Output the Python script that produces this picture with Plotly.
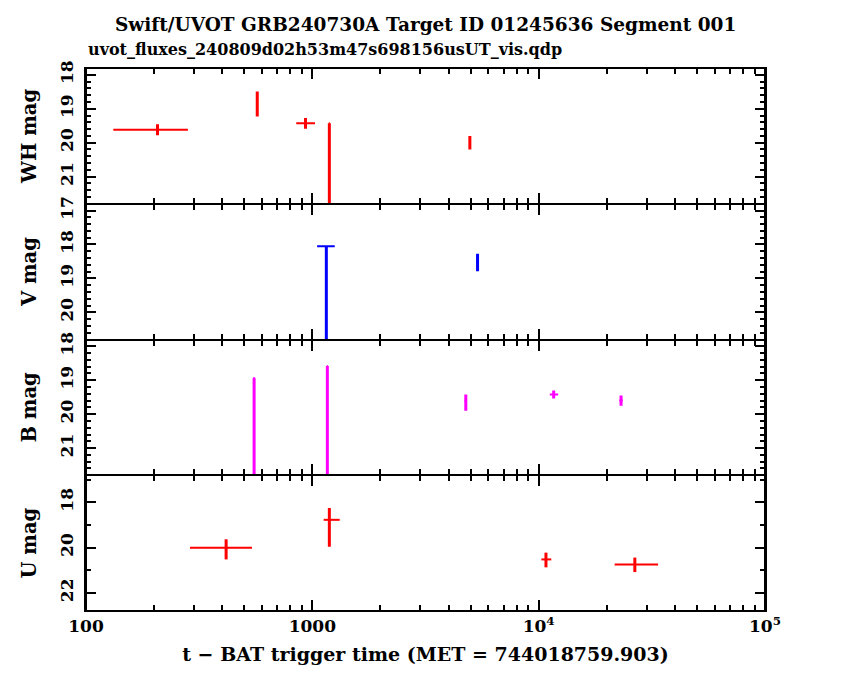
import plotly.graph_objects as go
from plotly.subplots import make_subplots

# ---- data (time since trigger in s, magnitudes) ----
wh_t = [207, 571, 933, 1189, 4966]
wh_tlo = [75, 4, 84, 6, 6]
wh_thi = [75, 4, 95, 6, 6]
wh_mag = [19.62, 18.86, 19.43, 19.43, 20.0]
wh_elo = [0.16, 0.37, 0.16, 0.0, 0.2]
wh_ehi = [0.16, 0.37, 0.16, 3.0, 0.2]

v_t = [1153, 5370]
v_tlo = [103, 60]
v_thi = [103, 60]
v_mag = [18.05, 18.52]
v_elo = [0.0, 0.25]
v_ehi = [3.5, 0.27]

b_t = [553, 1165, 4765, 11650, 23120]
b_tlo = [6, 6, 60, 450, 400]
b_thi = [6, 6, 60, 550, 400]
b_mag = [18.94, 18.58, 19.61, 19.42, 19.6]
b_elo = [0.0, 0.0, 0.19, 0.12, 0.15]
b_ehi = [3.5, 3.5, 0.29, 0.12, 0.15]

u_t = [416, 1189, 10770, 26600]
u_tlo = [128, 67, 490, 4930]
u_thi = [125, 132, 600, 7100]
u_mag = [20.0, 18.77, 20.52, 20.74]
u_elo = [0.37, 0.52, 0.3, 0.3]
u_ehi = [0.52, 1.19, 0.35, 0.34]

panels = [
    ("WH mag", wh_t, wh_tlo, wh_thi, wh_mag, wh_elo, wh_ehi, "#ff0000", [21.8, 17.8], 1, 0.2),
    ("V mag", v_t, v_tlo, v_thi, v_mag, v_elo, v_ehi, "#0000ff", [20.8, 16.8], 1, 0.2),
    ("B mag", b_t, b_tlo, b_thi, b_mag, b_elo, b_ehi, "#ff00ff", [21.8, 17.8], 1, 0.2),
    ("U mag", u_t, u_tlo, u_thi, u_mag, u_elo, u_ehi, "#ff0000", [22.8, 16.8], 2, 1),
]

xtickvals = [100, 1000, 10000, 100000]
xticktext = ["<b>100</b>", "<b>1000</b>", "<b>10<sup>4</sup></b>", "<b>10<sup>5</sup></b>"]

FONT = "DejaVu Serif"

fig = make_subplots(rows=4, cols=1, shared_xaxes=True, vertical_spacing=0)

for i, (name, t, tlo, thi, mag, elo, ehi, col, yr, dt, mdt) in enumerate(panels, start=1):
    fig.add_trace(go.Scatter(
        x=t, y=mag, mode="markers",
        marker=dict(size=1, color=col, opacity=0),
        error_x=dict(type="data", symmetric=False, array=thi, arrayminus=tlo,
                     color=col, thickness=2, width=0),
        error_y=dict(type="data", symmetric=False, array=ehi, arrayminus=elo,
                     color=col, thickness=3, width=0),
        showlegend=False, cliponaxis=True,
    ), row=i, col=1)
    fig.update_yaxes(
        row=i, col=1, range=yr, dtick=dt, tick0=0,
        ticks="inside", ticklen=10, tickwidth=2, tickcolor="black",
        mirror="allticks", showline=True, linewidth=2, linecolor="black",
        showgrid=False, zeroline=False, tickangle=-90,
        tickprefix="<b>", ticksuffix="</b>", ticklabelstandoff=4,
        tickfont=dict(family=FONT, size=17, color="black"),
        title=dict(text="<b>" + name + "</b>", font=dict(family=FONT, size=19.5, color="black"), standoff=15),
        minor=dict(dtick=mdt, ticks="inside", ticklen=5, tickwidth=2, tickcolor="black", showgrid=False),
    )
    fig.update_xaxes(
        row=i, col=1, type="log", range=[2, 5],
        tickvals=xtickvals, ticktext=xticktext,
        ticks="inside", ticklen=11, tickwidth=2, tickcolor="black",
        mirror="allticks", showline=True, linewidth=1, linecolor="black",
        showgrid=False, zeroline=False,
        showticklabels=(i == 4),
        tickfont=dict(family=FONT, size=17, color="black"),
        minor=dict(dtick="D1", ticks="inside", ticklen=6, tickwidth=2, tickcolor="black", showgrid=False),
    )

fig.update_xaxes(row=4, col=1,
                 title=dict(text="<b>t \u2212 BAT trigger time (MET = 744018759.903)</b>",
                            font=dict(family=FONT, size=19, color="black"), standoff=12))

# outer frame of the stacked panels
fig.add_shape(type="rect", xref="paper", yref="paper", x0=0, x1=1, y0=0, y1=1,
              line=dict(color="black", width=2), fillcolor="rgba(0,0,0,0)", layer="above")

fig.add_annotation(text="<b>Swift/UVOT GRB240730A Target ID 01245636 Segment 001</b>",
                   xref="paper", yref="paper", x=0.5, y=1.0, yshift=44,
                   xanchor="center", yanchor="middle", showarrow=False,
                   font=dict(family=FONT, size=18.5, color="black"))
fig.add_annotation(text="<b>uvot_fluxes_240809d02h53m47s698156usUT_vis.qdp</b>",
                   xref="paper", yref="paper", x=0.0, y=1.0, yshift=19,
                   xanchor="left", yanchor="middle", showarrow=False,
                   font=dict(family=FONT, size=16, color="black"))

fig.update_layout(
    width=850, height=680,
    margin=dict(l=78, r=93, t=60, b=77),
    paper_bgcolor="white", plot_bgcolor="white",
    font=dict(family=FONT, color="black"),
)

fig.write_html("out.html")
